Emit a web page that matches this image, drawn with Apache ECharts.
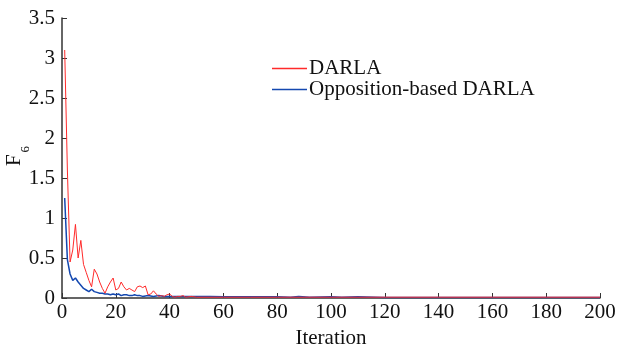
<!DOCTYPE html>
<html>
<head>
<meta charset="utf-8">
<script src="https://cdn.jsdelivr.net/npm/echarts@6/dist/echarts.min.js"></script>
<style>
  html, body { margin: 0; padding: 0; background: #fff; }
  #chart { width: 617px; height: 347px; }
</style>
</head>
<body>
<div id="chart"></div>
<script>
// iteration positions and values
const darlaIter = [1, 2, 3, 4, 5, 6, 7, 8, 9, 10, 11, 12, 13, 14, 15, 16, 17, 18, 19, 20,
  21, 22, 23, 24, 25, 26, 27, 28, 29, 30, 31, 32, 33, 34, 35, 36, 37, 38, 39, 40,
  41, 42, 43, 44, 45, 46, 48, 50, 55, 60, 70, 80, 90, 100, 120, 140, 160, 180, 200];
const darlaVal = [3.1, 1.6, 0.45, 0.6, 0.92, 0.5, 0.72, 0.42, 0.32, 0.22, 0.14, 0.36, 0.3, 0.2, 0.12, 0.06, 0.14, 0.2, 0.25, 0.1,
  0.12, 0.2, 0.14, 0.1, 0.12, 0.1, 0.08, 0.14, 0.15, 0.13, 0.15, 0.04, 0.05, 0.09, 0.05, 0.02, 0.03, 0.02, 0.04, 0.05,
  0.02, 0.01, 0.02, 0.02, 0.03, 0.01, 0.02, 0.01, 0.01, 0.01, 0.01, 0.01, 0.01, 0.01, 0.01, 0.01, 0.01, 0.01, 0.01];

const oppIter = [1, 2, 3, 4, 5, 6, 7, 8, 9, 10, 11, 12, 13, 14, 15, 16, 17, 18, 19, 20,
  21, 22, 23, 24, 25, 26, 27, 28, 29, 30, 32, 34, 36, 38, 40, 45, 50, 55, 60, 70, 80,
  85, 88, 92, 100, 104, 110, 120, 140, 160, 180, 200];
const oppVal = [1.25, 0.48, 0.3, 0.22, 0.25, 0.2, 0.16, 0.12, 0.1, 0.08, 0.11, 0.08, 0.07, 0.06, 0.06, 0.05, 0.05, 0.04, 0.05, 0.04,
  0.05, 0.03, 0.04, 0.04, 0.03, 0.03, 0.04, 0.03, 0.03, 0.02, 0.03, 0.02, 0.03, 0.02, 0.02, 0.02, 0.02, 0.02, 0.015, 0.015, 0.015,
  0.01, 0.02, 0.01, 0.015, 0.01, 0.015, 0.005, 0.005, 0.005, 0.005, 0.005];

const seriesNames = ['DARLA', 'Opposition-based DARLA'];

function pairs(xs, ys) {
  return xs.map((x, i) => [x, ys[i]]);
}

const chart = echarts.init(document.getElementById('chart'));
const font = 'Liberation Serif';
const axisColor = '#333';
const fs = 21;

chart.setOption({
  animation: false,
  textStyle: { fontFamily: font },
  grid: { left: 62, right: 17, top: 18, bottom: 49, outerBoundsMode: 'none', containLabel: false },
  legend: {
    orient: 'vertical',
    left: 267,
    top: 53,
    icon: 'rect',
    itemWidth: 35,
    itemHeight: 1.5,
    itemGap: 0,
    data: seriesNames,
    textStyle: { fontFamily: font, fontSize: fs, color: '#111', padding: [0, 0, 0, -3] }
  },
  xAxis: {
    type: 'value',
    min: 0,
    max: 200,
    interval: 20,
    name: 'Iteration',
    nameLocation: 'middle',
    nameGap: 30,
    nameMoveOverlap: false,
    nameTextStyle: { fontFamily: font, fontSize: fs, color: '#111' },
    axisLine: { lineStyle: { color: axisColor, width: 1.5 } },
    axisTick: { inside: true, length: 5, lineStyle: { color: axisColor } },
    axisLabel: { fontFamily: font, fontSize: fs, color: '#111', margin: 4 },
    splitLine: { show: false }
  },
  yAxis: {
    type: 'value',
    min: 0,
    max: 3.5,
    interval: 0.5,
    name: 'F{sub|6}',
    nameLocation: 'middle',
    nameGap: 30,
    nameMoveOverlap: false,
    nameTextStyle: {
      fontFamily: font, fontSize: fs, color: '#111', padding: [0, 0, 0, 4],
      rich: { sub: { fontFamily: font, fontSize: 13, color: '#111', padding: [22, 0, 0, 2] } }
    },
    axisLine: { show: true, lineStyle: { color: axisColor, width: 1.5 } },
    axisTick: { show: true, inside: true, length: 5, lineStyle: { color: axisColor } },
    axisLabel: { fontFamily: font, fontSize: fs, color: '#111', margin: 7 },
    splitLine: { show: false }
  },
  series: [
    {
      name: seriesNames[0],
      type: 'line',
      data: pairs(darlaIter, darlaVal),
      symbol: 'none',
      z: 3,
      lineStyle: { color: '#ff2a2a', width: 1 },
      itemStyle: { color: '#ff2a2a' }
    },
    {
      name: seriesNames[1],
      type: 'line',
      data: pairs(oppIter, oppVal),
      symbol: 'none',
      z: 2,
      lineStyle: { color: '#1448b0', width: 1.5 },
      itemStyle: { color: '#1448b0' }
    }
  ]
});
</script>
</body>
</html>
